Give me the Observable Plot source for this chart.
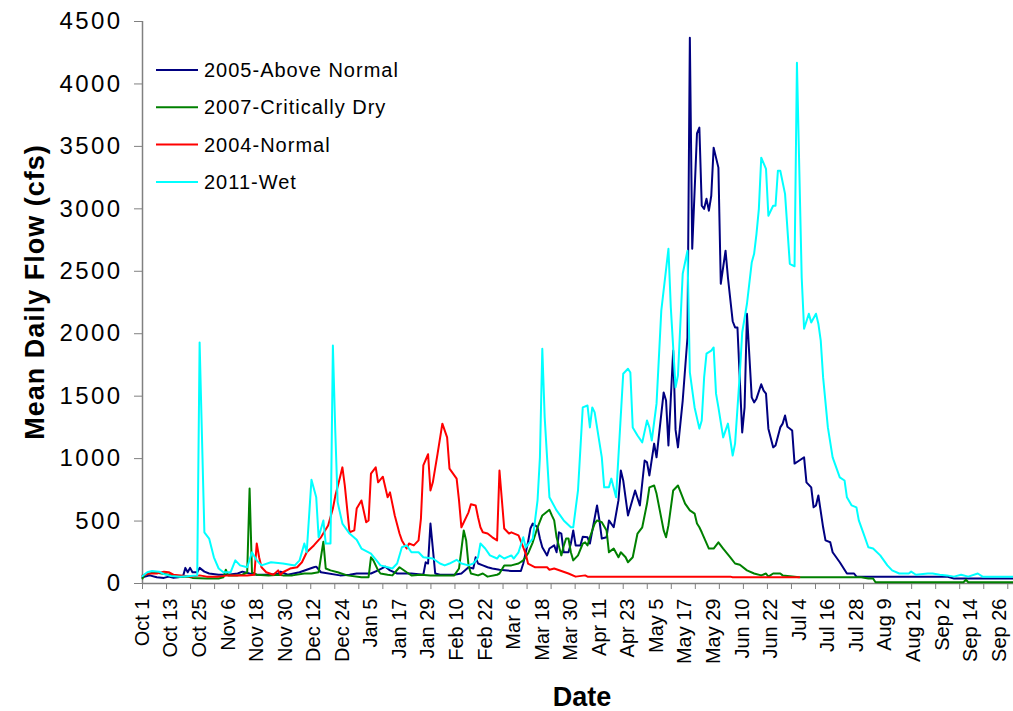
<!DOCTYPE html>
<html><head><meta charset="utf-8">
<script src="https://cdn.jsdelivr.net/npm/d3@7"></script>
<script src="https://cdn.jsdelivr.net/npm/@observablehq/plot@0.6"></script>
<style>
body{margin:0;background:#fff;font-family:"Liberation Sans",Arial,sans-serif;}
#wrap{width:1013px;height:711px;overflow:hidden}
</style></head><body><div id="wrap"></div>
<script>
// Water-year day index (0 = Oct 1) and mean daily flow (cfs)
const seriesNames = ["2005-Above Normal", "2007-Critically Dry", "2004-Normal", "2011-Wet"];
const seriesColors = ["#000080", "#008000", "#ff0000", "#00ffff"];
const tickLabels = ["Oct 1","Oct 13","Oct 25","Nov 6","Nov 18","Nov 30","Dec 12","Dec 24","Jan 5","Jan 17","Jan 29","Feb 10","Feb 22","Mar 6","Mar 18","Mar 30","Apr 11","Apr 23","May 5","May 17","May 29","Jun 10","Jun 22","Jul 4","Jul 16","Jul 28","Aug 9","Aug 21","Sep 2","Sep 14","Sep 26"];
const yTicks = [0, 500, 1000, 1500, 2000, 2500, 3000, 3500, 4000, 4500];

const flow2005 = [[0,50],[3,65],[6,50],[9,45],[11,55],[13,45],[15,50],[17,55],[18,125],[19,90],[20,125],[21,90],[23,90],[24,125],[26,95],[28,80],[32,70],[36,70],[40,80],[42,95],[45,80],[48,70],[54,70],[57,80],[58,95],[61,70],[66,90],[72,130],[73,135],[75,90],[83,65],[87,70],[90,80],[96,80],[99,105],[102,135],[104,105],[107,80],[113,80],[118,70],[119,170],[120,160],[121,480],[123,80],[125,70],[131,70],[134,80],[137,130],[139,120],[140,210],[141,160],[143,145],[145,130],[147,120],[150,110],[155,100],[159,100],[160,160],[162,330],[163,440],[164,480],[166,450],[167,360],[168,290],[170,225],[171,280],[173,305],[174,250],[175,410],[176,400],[177,250],[179,250],[180,320],[181,425],[182,305],[184,305],[185,375],[187,370],[188,320],[191,625],[192,505],[193,360],[195,370],[196,505],[198,450],[200,665],[201,905],[202,825],[204,545],[207,745],[209,625],[211,985],[212,970],[213,865],[215,1120],[216,1010],[219,1530],[220,1465],[221,1105],[223,1865],[224,1230],[225,1090],[227,1465],[229,1970],[230,4370],[231,2680],[233,3605],[234,3650],[235,3025],[236,3000],[237,3080],[238,2985],[239,3105],[240,3490],[242,3330],[243,2400],[245,2665],[246,2450],[248,2100],[249,2050],[250,2050],[252,1210],[253,1410],[254,2160],[256,1490],[257,1450],[258,1480],[260,1595],[261,1545],[262,1520],[263,1240],[265,1090],[266,1105],[268,1250],[269,1280],[270,1345],[271,1255],[273,1225],[274,960],[276,985],[278,1010],[279,810],[281,770],[282,610],[283,625],[284,705],[286,450],[287,345],[289,330],[290,250],[293,170],[296,80],[299,80],[300,55],[307,55],[338,55],[341,40],[366,40]];

const flow2007 = [[0,40],[1,70],[5,90],[8,80],[11,70],[15,55],[19,55],[21,45],[27,40],[32,40],[34,50],[35,110],[36,65],[40,65],[42,70],[44,90],[45,760],[46,90],[48,70],[53,65],[57,70],[59,65],[63,65],[68,80],[71,80],[74,90],[76,335],[77,120],[79,105],[82,90],[86,65],[92,50],[95,50],[96,210],[97,185],[99,105],[100,80],[103,70],[105,65],[108,130],[111,90],[113,65],[117,70],[121,65],[131,65],[133,120],[135,425],[136,345],[137,145],[138,80],[141,65],[143,80],[145,55],[149,70],[150,80],[152,145],[155,145],[158,160],[160,185],[162,240],[164,330],[166,450],[168,545],[171,590],[172,545],[173,505],[174,370],[176,225],[177,300],[178,360],[179,360],[180,250],[181,185],[183,225],[185,320],[186,330],[187,305],[188,370],[190,480],[191,505],[193,490],[195,425],[196,250],[197,265],[198,280],[200,210],[201,250],[203,210],[204,170],[206,210],[208,400],[210,450],[212,640],[213,770],[215,785],[216,720],[219,425],[220,370],[221,465],[223,745],[225,785],[228,640],[230,585],[232,560],[233,480],[234,450],[235,410],[238,280],[240,280],[242,330],[244,280],[247,210],[249,160],[251,150],[254,105],[257,80],[260,65],[262,80],[263,55],[265,80],[268,80],[269,65],[276,50],[302,50],[305,40],[307,40],[308,10],[345,10],[346,30],[347,10],[366,10]];

const flow2004 = [[0,65],[3,80],[6,80],[9,95],[11,90],[13,70],[16,65],[21,55],[24,65],[27,55],[32,55],[36,65],[44,65],[47,70],[48,320],[49,210],[50,130],[52,90],[55,70],[57,105],[58,70],[59,90],[62,120],[65,130],[67,170],[69,250],[72,305],[75,370],[78,465],[80,600],[81,700],[83,850],[84,930],[85,785],[87,410],[89,425],[90,600],[92,665],[94,490],[95,505],[96,880],[98,930],[99,810],[101,855],[103,690],[104,730],[106,545],[108,400],[109,345],[111,280],[112,320],[114,305],[116,345],[117,520],[118,945],[120,1035],[121,745],[122,810],[124,1040],[126,1280],[128,1170],[129,920],[132,840],[133,665],[134,450],[137,570],[138,635],[140,625],[141,530],[142,450],[143,410],[145,400],[147,370],[149,345],[150,905],[152,440],[154,400],[155,410],[158,385],[160,290],[161,240],[162,160],[165,130],[170,130],[171,110],[173,120],[176,100],[179,80],[182,55],[186,65],[187,55],[247,55],[248,50],[276,50]];

const flow2011 = [[0,60],[2,90],[4,100],[7,95],[9,75],[12,60],[16,55],[20,60],[23,65],[24,1930],[26,410],[28,360],[30,210],[32,120],[34,90],[37,90],[39,185],[41,145],[44,130],[46,250],[48,185],[50,145],[54,170],[59,160],[64,145],[66,185],[68,320],[69,250],[71,830],[73,690],[74,370],[76,505],[77,320],[79,320],[80,1905],[81,1225],[82,650],[84,480],[87,400],[90,350],[92,280],[96,240],[100,145],[103,130],[105,120],[107,160],[109,290],[111,305],[113,250],[116,250],[118,210],[122,200],[125,160],[127,145],[129,160],[132,190],[134,160],[137,145],[139,160],[141,210],[142,320],[144,280],[146,225],[149,200],[150,225],[152,200],[155,225],[156,200],[158,250],[160,370],[161,290],[164,360],[166,665],[167,1010],[168,1880],[169,1330],[171,690],[174,585],[177,505],[180,450],[181,450],[183,745],[185,1410],[187,1425],[188,1250],[189,1410],[190,1370],[193,1010],[194,770],[196,770],[197,840],[199,690],[202,1680],[204,1720],[205,1690],[206,1250],[208,1185],[210,1130],[212,1305],[213,1250],[214,1145],[216,1440],[218,2185],[221,2680],[222,2210],[224,1570],[225,1665],[227,2480],[229,2665],[230,1690],[232,1410],[234,1240],[235,1305],[236,1650],[237,1840],[239,1865],[240,1890],[241,1520],[242,1410],[244,1170],[246,1280],[248,1025],[249,1120],[251,1680],[252,2010],[254,2240],[256,2570],[257,2640],[258,2800],[259,3000],[260,3410],[262,3320],[263,2945],[265,3025],[266,3025],[267,3305],[268,3305],[270,3120],[272,2560],[274,2540],[275,4170],[277,2450],[278,2040],[280,2160],[281,2090],[283,2160],[284,2080],[285,1945],[286,1650],[288,1250],[290,1010],[293,850],[295,825],[296,690],[298,625],[300,610],[301,505],[303,400],[305,290],[307,280],[310,225],[313,145],[315,105],[318,80],[322,80],[323,95],[325,70],[330,80],[332,80],[335,70],[338,65],[341,55],[344,70],[347,55],[351,80],[353,55],[366,55]];

const seriesValues = [flow2005, flow2007, flow2004, flow2011];
const rows = [];
seriesNames.forEach((name, i) => seriesValues[i].forEach(([day, flow]) => rows.push({name, day, flow})));

const labelStep = 12;      // label every 12 days
const tickStep = 10.1;     // tick marks
const labelDays = tickLabels.map((_, i) => i * labelStep);
const tickDays = d3.range(0, 366, tickStep);
const axisGray = "#808080";
const font = '"Liberation Sans", Arial, sans-serif';

const chart = Plot.plot({
  width: 1013, height: 711,
  marginLeft: 142, marginRight: 0, marginTop: 21, marginBottom: 128,
  style: {fontFamily: font, background: "white", color: "black"},
  x: {domain: [0, 366]},
  y: {domain: [0, 4500]},
  color: {domain: seriesNames, range: seriesColors},
  marks: [
    Plot.axisY({ticks: yTicks, tickSize: 8, tickPadding: 12, tickFormat: d => String(d), fontSize: 24, stroke: axisGray, label: null}),
    Plot.axisX({ticks: labelDays, tickFormat: d => tickLabels[Math.round(d / labelStep)], tickSize: 0, tickRotate: -90, tickPadding: 15, fontSize: 20, label: null}),
    Plot.axisX({ticks: tickDays, tickFormat: () => "", tickSize: 6, stroke: axisGray, label: null}),
    Plot.ruleX([0], {stroke: axisGray, strokeWidth: 1.5}),
    Plot.ruleY([0], {stroke: axisGray, strokeWidth: 1.5}),
    Plot.line(rows, {x: "day", y: "flow", z: "name", stroke: "name", strokeWidth: 2})
  ]
});

const svg = d3.select(chart);
svg.selectAll('g[aria-label="y-axis tick label"] text').style("letter-spacing", "2.4px");

// axis titles
svg.append("text")
  .attr("transform", "translate(44,292) rotate(-90)")
  .attr("text-anchor", "middle")
  .attr("font-family", font).attr("font-weight", "bold").attr("font-size", 27)
  .style("letter-spacing", "1px")
  .text("Mean Daily Flow (cfs)");
svg.append("text")
  .attr("x", 582).attr("y", 706)
  .attr("text-anchor", "middle")
  .attr("font-family", font).attr("font-weight", "bold").attr("font-size", 27)
  .text("Date");

// legend
const leg = svg.append("g");
seriesNames.forEach((name, i) => {
  const y = 70 + i * 37.3;
  leg.append("line").attr("x1", 156).attr("x2", 198).attr("y1", y).attr("y2", y)
    .attr("stroke", seriesColors[i]).attr("stroke-width", 2);
  leg.append("text").attr("x", 204).attr("y", y).attr("dy", "0.35em")
    .attr("text-anchor", "start")
    .attr("font-family", font).attr("font-size", 20).style("letter-spacing", "1px")
    .text(name);
});

document.getElementById("wrap").appendChild(chart);
</script></body></html>
